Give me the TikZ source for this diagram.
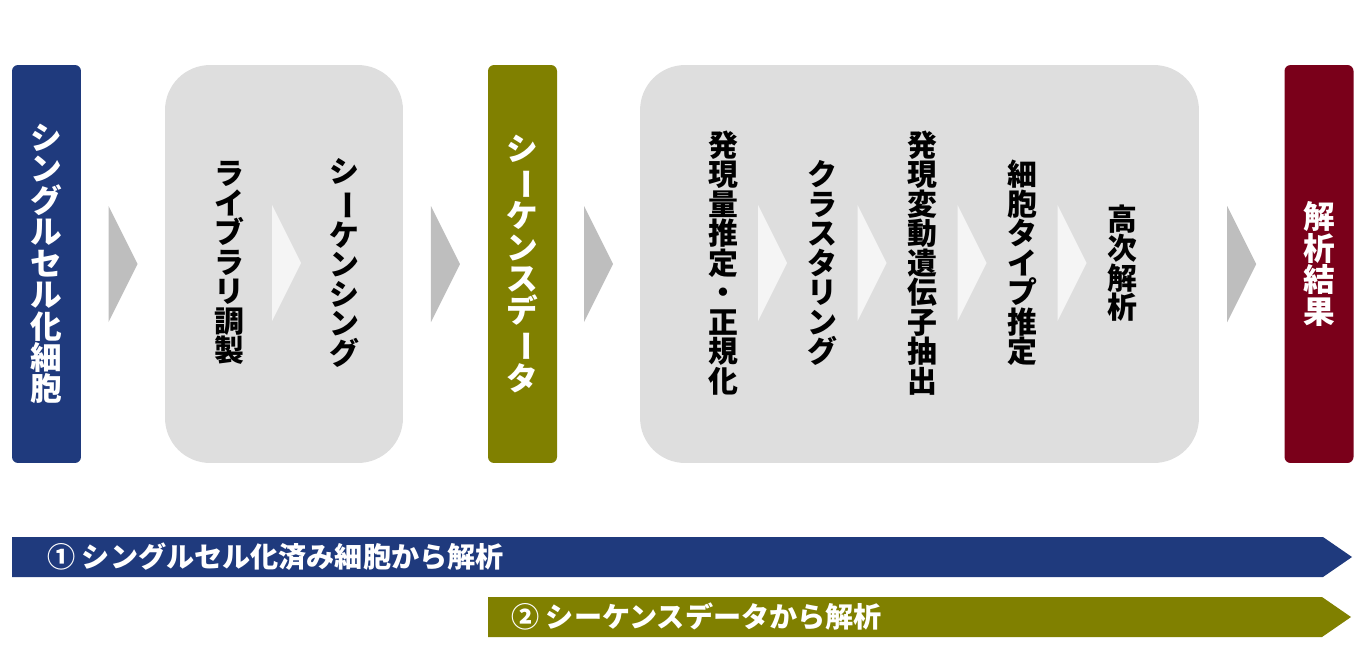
\documentclass[tikz,border=0pt]{standalone}
\usepackage{fontspec}
\usepackage{graphicx}
\newfontfamily\jpfont{Noto Sans CJK JP}
\usetikzlibrary{calc}
\usetikzlibrary{positioning}

\definecolor{cellblue}{RGB}{31,58,125}
\definecolor{seqolive}{RGB}{128,128,0}
\definecolor{resultred}{RGB}{122,0,26}
\definecolor{stagegray}{RGB}{222,222,222}
\definecolor{chevgray}{RGB}{190,190,190}
\definecolor{chevlight}{RGB}{245,245,245}

% long vowel mark in a vertical column
\newcommand{\vbar}{\rotatebox[origin=c]{-90}{ー}}
% triangle between two named nodes
\newcommand{\chevron}[3]{%
  \fill[#1] ($(#2.east)!0.5!(#3.west)$) ++(-14.5,-58) -- ++(29,58) -- ++(-29,58) -- cycle;}

\tikzset{
  endbox/.style={rectangle, rounded corners=0.12cm, minimum width=1.38cm, minimum height=7.96cm, text=white, align=center, inner sep=0pt, font=\jpfont\bfseries\fontsize{18}{17.9}\selectfont},
  stagebox/.style={rectangle, rounded corners=0.9cm, fill=stagegray, minimum height=7.96cm},
  vcol/.style={align=center, inner sep=0pt, font=\jpfont\bfseries\fontsize{17}{16.8}\selectfont},
  bartext/.style={text=white, inner sep=0pt, anchor=west, font=\jpfont\bfseries\fontsize{16}{18}\selectfont},
}

\begin{document}
\begin{tikzpicture}[x=0.02cm, y=-0.02cm]
    \useasboundingbox (0,0) rectangle (1368,660);

    \node [endbox, fill=cellblue] (cells) at (46.5,264) {シ\\ン\\グ\\ル\\セ\\ル\\化\\細\\胞};
    \node [stagebox, minimum width=4.76cm] (wetlab) at (284,264) {};
    \node [endbox, fill=seqolive] (seqdata) at (522.5,264) {シ\\\vbar\\ケ\\ン\\ス\\デ\\\vbar\\タ};
    \node [stagebox, minimum width=11.18cm] (drylab) at (919.5,264) {};
    \node [endbox, fill=resultred] (result) at (1319,264) {解\\析\\結\\果};

    \node [vcol] (libprep) at (229,263) {ラ\\イ\\ブ\\ラ\\リ\\調\\製};
    \node [vcol] (sequencing) at (344,263) {シ\\\vbar\\ケ\\ン\\シ\\ン\\グ};

    \node [vcol] (quant) at (723,263) {発\\現\\量\\推\\定\\・\\正\\規\\化};
    \node [vcol] (cluster) at (822,263) {ク\\ラ\\ス\\タ\\リ\\ン\\グ};
    \node [vcol] (deg) at (922,263) {発\\現\\変\\動\\遺\\伝\\子\\抽\\出};
    \node [vcol] (celltype) at (1022,263) {細\\胞\\タ\\イ\\プ\\推\\定};
    \node [vcol] (advanced) at (1122,263) {高\\次\\解\\析};

    \chevron{chevgray}{cells}{wetlab}
    \chevron{chevgray}{wetlab}{seqdata}
    \chevron{chevgray}{seqdata}{drylab}
    \chevron{chevgray}{drylab}{result}
    \chevron{chevlight}{libprep}{sequencing}
    \chevron{chevlight}{quant}{cluster}
    \chevron{chevlight}{cluster}{deg}
    \chevron{chevlight}{deg}{celltype}
    \chevron{chevlight}{celltype}{advanced}

    % two entry routes
    \fill [cellblue] (12,537) -- (1323,537) -- (1352,557) -- (1323,577) -- (12,577) -- cycle;
    \node [bartext] (route1) at (47,557) {① シングルセル化済み細胞から解析};
    \fill [seqolive] (488,597) -- (1322,597) -- (1351,617) -- (1322,637) -- (488,637) -- cycle;
    \node [bartext] (route2) at (511,617) {② シーケンスデータから解析};
\end{tikzpicture}
\end{document}
